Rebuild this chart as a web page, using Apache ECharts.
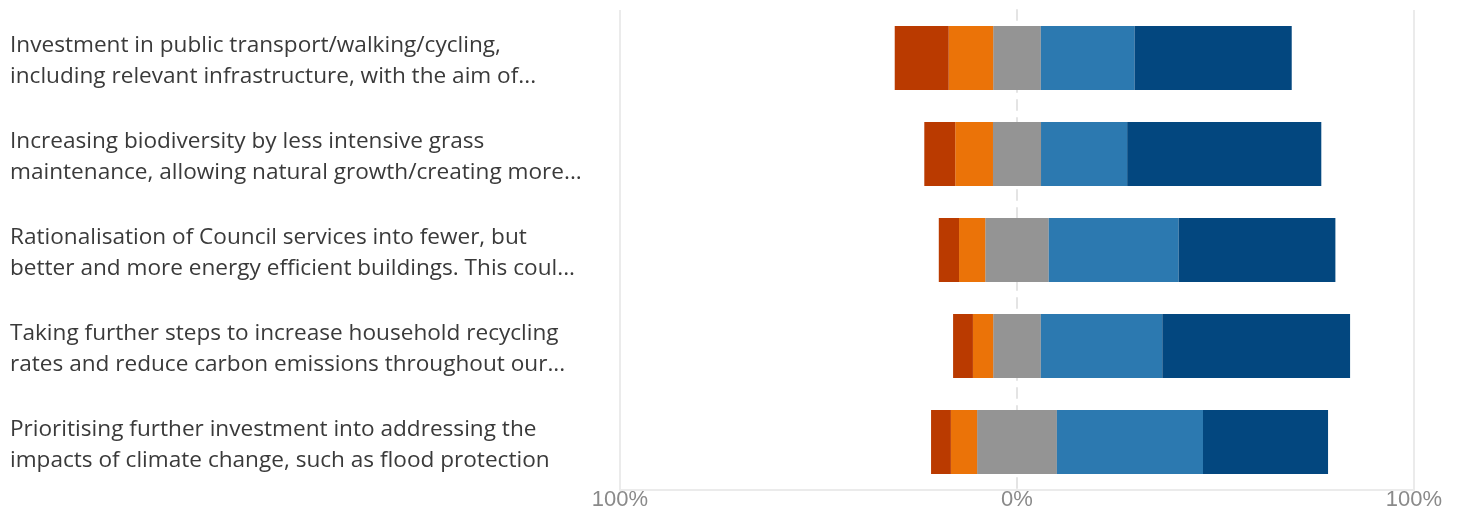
<!DOCTYPE html>
<html>
<head>
<meta charset="utf-8">
<script src="https://cdn.jsdelivr.net/npm/echarts@6/dist/echarts.min.js"></script>
<style>
  html, body { margin: 0; padding: 0; background: #fff; }
  #chart { width: 1459px; height: 511px; }
</style>
</head>
<body>
<div id="chart"></div>
<script>
// diverging stacked bars - likert answers, percent of respondents

const categories = [
  'Investment in public transport/walking/cycling,\nincluding relevant infrastructure, with the aim of...',
  'Increasing biodiversity by less intensive grass\nmaintenance, allowing natural growth/creating more...',
  'Rationalisation of Council services into fewer, but\nbetter and more energy efficient buildings. This coul...',
  'Taking further steps to increase household recycling\nrates and reduce carbon emissions throughout our...',
  'Prioritising further investment into addressing the\nimpacts of climate change, such as flood protection',
];

const stronglyDisagree = [13.6, 7.8, 5.1, 5.0, 5.0];
const disagree         = [11.2, 9.5, 6.6, 5.1, 6.6];
const neutral          = [12.0, 12.1, 16.0, 12.0, 20.1];
const agree            = [23.6, 21.7, 32.7, 30.6, 36.8];
const stronglyAgree    = [39.6, 48.9, 39.5, 47.3, 31.5];

const xTicks = [-100, 0, 100];

const COLORS = {
  sd: '#BA3A00', d: '#EB7308', n: '#949494', a: '#2C79B0', sa: '#03477F',
  grid: '#ebebeb', label: '#3a3a3a', tick: '#8a8a8a',
};

function barSeries(name, values, color) {
  return {
    name, type: 'bar', stack: 'total', data: values,
    barWidth: 64,
    itemStyle: { color },
    emphasis: { disabled: true },
  };
}

const chart = echarts.init(document.getElementById('chart'));
chart.setOption({
  animation: false,
  backgroundColor: '#fff',
  grid: { left: 620, right: 45, top: 10, bottom: 20, containLabel: false },
  xAxis: {
    type: 'value', min: xTicks[0], max: xTicks[2], interval: 100,
    axisLine: { show: true, lineStyle: { color: COLORS.grid, width: 2 } },
    axisTick: { show: false },
    axisLabel: {
      color: COLORS.tick, fontSize: 22, fontFamily: 'Liberation Sans',
      margin: 10, verticalAlign: 'middle',
      formatter: v => Math.abs(v) + '%',
    },
    splitLine: {
      show: true,
      // middle (0%) line is drawn dashed by the second y axis
      lineStyle: { color: [COLORS.grid, 'rgba(0,0,0,0)', COLORS.grid], width: 2 },
    },
  },
  yAxis: [
    {
      type: 'category', data: categories, inverse: true,
      axisLine: { show: false, onZero: false },
      axisTick: { show: false },
      axisLabel: {
        align: 'left', margin: 610,
        // empty spacer line on top nudges the two text lines down a little
        formatter: v => '{s|}\n{t|' + v.split('\n').join('}\n{t|') + '}',
        rich: {
          s: { lineHeight: 6 },
          t: {
            color: COLORS.label, fontSize: 22.6, lineHeight: 31,
            fontFamily: "'Open Sans', sans-serif",
          },
        },
      },
      splitLine: { show: false },
    },
    {
      type: 'category', data: categories, inverse: true,
      axisLine: { show: true, onZero: true,
        lineStyle: { color: '#e4e4e4', width: 2, type: [10, 8] } },
      axisTick: { show: false },
      axisLabel: { show: false },
      splitLine: { show: false },
    },
  ],
  series: [
    barSeries('Neither', neutral.map(v => -v / 2), COLORS.n),
    barSeries('Disagree', disagree.map(v => -v), COLORS.d),
    barSeries('Strongly disagree', stronglyDisagree.map(v => -v), COLORS.sd),
    barSeries('Neither ', neutral.map(v => v / 2), COLORS.n),
    barSeries('Agree', agree, COLORS.a),
    barSeries('Strongly agree', stronglyAgree, COLORS.sa),
  ],
});
</script>
</body>
</html>
